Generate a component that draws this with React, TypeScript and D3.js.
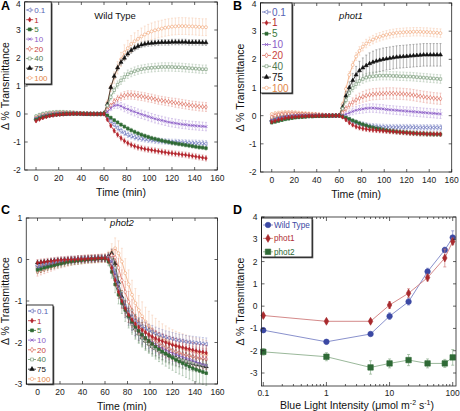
import React, { useEffect, useRef } from "react";
import * as d3 from "d3";

const TIME = [0,3,6,9,12,15,18,21,24,27,30,33,36,39,42,45,48,51,54,57,60,63,66,69,72,75,78,81,84,87,90,93,96,99,102,105,108,111,114,117,120,123,126,129,132,135,138,141,144,147,150];
const DOSE_LABELS = ["0.1", "1", "5", "10", "20", "40", "75", "100"];
const TIME_TICKS = [0, 20, 40, 60, 80, 100, 120, 140, 160];
const AB_Y_TICKS = [-2, -1, 0, 1, 2, 3, 4];
const C_Y_TICKS = [-3, -2, -1, 0, 1];
const D_Y_TICKS = [-3, -2, -1, 0, 1, 2, 3, 4];
const D_X_TICKS = [0.1, 1, 10, 100];
const D_X_LABELS = ["0.1", "1", "10", "100"];
const INTENSITY = [0.1, 1, 5, 10, 20, 40, 75, 100];
const D_NAMES = ["Wild Type", "phot1", "phot2"];

// ---------- Panel A: Wild Type ----------
const WT_01 = [-0.18,-0.13,-0.09,-0.06,-0.04,-0.02,-0.01,0,0.01,0.01,0.02,0.02,0.02,0.01,0.01,0.01,0,0,0,0,0,
  -0.1,-0.25,-0.38,-0.5,-0.6,-0.68,-0.74,-0.79,-0.83,-0.86,-0.88,-0.9,-0.92,-0.93,-0.95,-0.96,-0.97,-0.98,-0.99,-1.0,-1.0,-1.01,-1.02,-1.02,-1.03,-1.04,-1.04,-1.05,-1.05,-1.06];
const WT_1 = [-0.25,-0.19,-0.14,-0.1,-0.07,-0.05,-0.03,-0.02,-0.01,0,0,0.01,0.01,0.01,0,0,0,0,0,0,0,
  -0.2,-0.42,-0.6,-0.74,-0.86,-0.96,-1.04,-1.1,-1.15,-1.19,-1.22,-1.25,-1.27,-1.29,-1.31,-1.33,-1.35,-1.37,-1.39,-1.4,-1.42,-1.43,-1.45,-1.46,-1.48,-1.5,-1.52,-1.54,-1.56,-1.58];
const WT_5 = [-0.2,-0.15,-0.11,-0.08,-0.05,-0.03,-0.02,-0.01,0,0.01,0.01,0.01,0.01,0.01,0.01,0,0,0,0,0,0.01,
  -0.05,-0.13,-0.22,-0.3,-0.38,-0.45,-0.52,-0.58,-0.64,-0.69,-0.74,-0.78,-0.82,-0.86,-0.89,-0.92,-0.95,-0.98,-1.0,-1.03,-1.05,-1.07,-1.09,-1.11,-1.13,-1.15,-1.17,-1.19,-1.2,-1.22];
const WT_10 = [-0.17,-0.12,-0.08,-0.05,-0.03,-0.01,0,0.01,0.02,0.02,0.02,0.02,0.02,0.02,0.01,0.01,0,0,0,0,0,
  0.08,0.2,0.3,0.32,0.28,0.22,0.17,0.12,0.08,0.03,-0.01,-0.05,-0.09,-0.13,-0.17,-0.2,-0.23,-0.26,-0.29,-0.31,-0.33,-0.35,-0.37,-0.38,-0.4,-0.41,-0.42,-0.43,-0.44,-0.45];
const WT_20 = [-0.15,-0.1,-0.06,-0.03,-0.01,0.01,0.02,0.03,0.03,0.03,0.03,0.03,0.02,0.02,0.01,0.01,0,0,0,0,0,
  0.15,0.3,0.45,0.55,0.62,0.66,0.68,0.68,0.67,0.65,0.63,0.61,0.58,0.56,0.53,0.5,0.48,0.46,0.44,0.42,0.4,0.38,0.36,0.34,0.32,0.3,0.29,0.27,0.26,0.25];
const WT_40 = [-0.08,-0.03,0.01,0.03,0.05,0.06,0.07,0.07,0.07,0.06,0.06,0.05,0.04,0.03,0.02,0.02,0.01,0.01,0,0,0.02,
  0.3,0.6,0.85,1.05,1.2,1.32,1.42,1.48,1.53,1.57,1.6,1.62,1.64,1.65,1.66,1.67,1.68,1.68,1.68,1.68,1.67,1.67,1.66,1.65,1.64,1.63,1.62,1.61,1.6,1.6];
const WT_75 = [-0.17,-0.13,-0.1,-0.07,-0.05,-0.03,-0.02,-0.01,0,0,0.01,0.01,0.01,0.01,0,0,0,0,0,0,0.03,
  0.35,0.95,1.35,1.65,1.85,2.0,2.15,2.27,2.36,2.42,2.47,2.5,2.52,2.53,2.54,2.55,2.56,2.56,2.56,2.57,2.57,2.57,2.57,2.57,2.56,2.56,2.56,2.56,2.55,2.55];
const WT_100 = [-0.12,-0.07,-0.03,0,0.02,0.03,0.04,0.04,0.04,0.04,0.04,0.03,0.03,0.02,0.02,0.01,0.01,0,0,0,0.02,
  0.4,0.95,1.3,1.65,1.95,2.2,2.35,2.5,2.6,2.68,2.77,2.84,2.9,2.95,2.99,3.02,3.05,3.08,3.1,3.12,3.13,3.14,3.14,3.14,3.13,3.13,3.12,3.11,3.1,3.1];

const WT_01_ERR = [0.04,0.04,0.04,0.04,0.04,0.04,0.04,0.04,0.04,0.04,0.04,0.04,0.04,0.04,0.04,0.04,0.04,0.04,0.04,0.04,0.04,
  0.05,0.06,0.07,0.08,0.09,0.09,0.1,0.1,0.1,0.1,0.1,0.1,0.1,0.1,0.1,0.1,0.1,0.1,0.1,0.1,0.1,0.1,0.1,0.1,0.1,0.11,0.11,0.11,0.11,0.11];
const WT_1_ERR = [0.04,0.04,0.04,0.04,0.04,0.04,0.04,0.04,0.04,0.04,0.04,0.04,0.04,0.04,0.04,0.04,0.04,0.04,0.04,0.04,0.04,
  0.05,0.07,0.08,0.09,0.1,0.1,0.1,0.1,0.1,0.1,0.1,0.1,0.1,0.1,0.1,0.1,0.1,0.1,0.1,0.1,0.1,0.1,0.1,0.1,0.1,0.1,0.1,0.1,0.1,0.1];
const WT_5_ERR = [0.03,0.03,0.03,0.03,0.03,0.03,0.03,0.03,0.03,0.03,0.03,0.03,0.03,0.03,0.03,0.03,0.03,0.03,0.03,0.03,0.03,
  0.04,0.05,0.05,0.06,0.06,0.06,0.07,0.07,0.07,0.07,0.07,0.07,0.07,0.07,0.07,0.07,0.07,0.07,0.07,0.07,0.07,0.07,0.07,0.07,0.07,0.07,0.07,0.07,0.07,0.07];
const WT_10_ERR = [0.04,0.04,0.04,0.04,0.04,0.04,0.04,0.04,0.04,0.04,0.04,0.04,0.04,0.04,0.04,0.04,0.04,0.04,0.04,0.04,0.04,
  0.06,0.08,0.1,0.12,0.13,0.14,0.14,0.15,0.15,0.15,0.15,0.15,0.15,0.15,0.15,0.15,0.15,0.15,0.15,0.15,0.15,0.15,0.15,0.15,0.15,0.15,0.15,0.15,0.15,0.15];
const WT_20_ERR = [0.05,0.05,0.05,0.05,0.05,0.05,0.05,0.05,0.05,0.05,0.05,0.05,0.05,0.05,0.05,0.05,0.05,0.05,0.05,0.05,0.05,
  0.06,0.08,0.1,0.12,0.13,0.14,0.15,0.15,0.15,0.15,0.15,0.15,0.15,0.15,0.15,0.15,0.15,0.15,0.15,0.15,0.16,0.16,0.16,0.16,0.16,0.16,0.16,0.16,0.16,0.16];
const WT_40_ERR = [0.06,0.06,0.06,0.06,0.06,0.06,0.06,0.06,0.06,0.06,0.06,0.06,0.06,0.06,0.06,0.06,0.06,0.06,0.06,0.06,0.06,
  0.08,0.1,0.12,0.13,0.14,0.15,0.15,0.15,0.15,0.15,0.15,0.15,0.15,0.15,0.15,0.15,0.15,0.15,0.15,0.15,0.15,0.15,0.15,0.15,0.15,0.15,0.15,0.15,0.15,0.15];
const WT_75_ERR = [0.04,0.04,0.04,0.04,0.04,0.04,0.04,0.04,0.04,0.04,0.04,0.04,0.04,0.04,0.04,0.04,0.04,0.04,0.04,0.04,0.04,
  0.06,0.08,0.09,0.1,0.1,0.1,0.1,0.1,0.1,0.1,0.1,0.1,0.1,0.1,0.1,0.1,0.1,0.1,0.1,0.1,0.1,0.1,0.1,0.1,0.1,0.1,0.1,0.1,0.1,0.1];
const WT_100_ERR = [0.06,0.06,0.06,0.06,0.06,0.06,0.06,0.06,0.06,0.06,0.06,0.06,0.06,0.06,0.06,0.06,0.06,0.06,0.06,0.06,0.06,
  0.1,0.15,0.2,0.22,0.25,0.27,0.28,0.3,0.3,0.3,0.3,0.3,0.3,0.3,0.3,0.3,0.3,0.3,0.3,0.3,0.3,0.3,0.3,0.3,0.3,0.3,0.3,0.3,0.3,0.3];

// ---------- Panel B: phot1 ----------
const P1_01 = [-0.2,-0.16,-0.12,-0.09,-0.07,-0.05,-0.04,-0.03,-0.02,-0.02,-0.01,-0.01,-0.01,0,0,0,0,0,0,0,0,
  -0.03,-0.08,-0.14,-0.2,-0.25,-0.29,-0.32,-0.35,-0.37,-0.38,-0.39,-0.4,-0.4,-0.41,-0.41,-0.41,-0.41,-0.41,-0.41,-0.41,-0.41,-0.41,-0.42,-0.42,-0.42,-0.42,-0.42,-0.42,-0.42,-0.42];
const P1_1 = [-0.22,-0.18,-0.14,-0.11,-0.08,-0.06,-0.05,-0.04,-0.03,-0.02,-0.02,-0.01,-0.01,-0.01,0,0,0,0,0,0,0,
  -0.05,-0.15,-0.25,-0.33,-0.39,-0.43,-0.46,-0.48,-0.5,-0.51,-0.52,-0.53,-0.54,-0.55,-0.56,-0.57,-0.58,-0.59,-0.6,-0.61,-0.62,-0.63,-0.63,-0.64,-0.64,-0.65,-0.65,-0.65,-0.65,-0.66];
const P1_5 = [-0.25,-0.22,-0.19,-0.16,-0.13,-0.11,-0.09,-0.07,-0.06,-0.05,-0.04,-0.03,-0.03,-0.02,-0.02,-0.01,-0.01,-0.01,0,0,0,
  -0.03,-0.07,-0.12,-0.17,-0.22,-0.27,-0.31,-0.35,-0.39,-0.42,-0.45,-0.47,-0.5,-0.52,-0.54,-0.55,-0.57,-0.58,-0.59,-0.6,-0.61,-0.62,-0.63,-0.64,-0.64,-0.65,-0.65,-0.66,-0.66,-0.66];
const P1_10 = [-0.18,-0.14,-0.1,-0.07,-0.05,-0.03,-0.02,-0.01,0,0,0,0,0,0,0,0,0,0,0,0,0,
  0,0.05,0.1,0.15,0.19,0.22,0.24,0.26,0.27,0.27,0.26,0.25,0.24,0.22,0.21,0.2,0.19,0.18,0.17,0.16,0.15,0.14,0.13,0.12,0.11,0.1,0.09,0.08,0.07,0.06];
const P1_20 = [-0.05,0,0.03,0.05,0.06,0.06,0.06,0.06,0.05,0.05,0.04,0.04,0.03,0.03,0.02,0.02,0.01,0.01,0,0,0,
  0.1,0.25,0.38,0.48,0.56,0.62,0.67,0.71,0.74,0.76,0.77,0.78,0.78,0.79,0.79,0.79,0.78,0.78,0.77,0.76,0.75,0.73,0.71,0.69,0.67,0.65,0.64,0.62,0.61,0.6];
const P1_40 = [-0.1,-0.06,-0.03,-0.01,0,0.01,0.01,0.01,0.01,0.01,0.01,0,0,0,0,0,0,0,0,0,0,
  0.25,0.55,0.8,0.98,1.12,1.23,1.3,1.35,1.38,1.4,1.41,1.42,1.42,1.42,1.42,1.41,1.41,1.4,1.4,1.39,1.39,1.38,1.37,1.36,1.35,1.34,1.33,1.32,1.31,1.3];
const P1_75 = [-0.15,-0.1,-0.06,-0.03,-0.01,0,0.01,0.02,0.02,0.02,0.01,0.01,0,0,0,0,0,0,0,0,0.01,
  0.3,0.7,1.0,1.25,1.45,1.6,1.7,1.78,1.85,1.9,1.94,1.97,2.0,2.02,2.04,2.06,2.08,2.09,2.1,2.11,2.12,2.13,2.14,2.15,2.16,2.16,2.16,2.16,2.16,2.16];
const P1_100 = [0.05,0.08,0.1,0.11,0.12,0.12,0.12,0.11,0.1,0.09,0.08,0.07,0.06,0.05,0.04,0.03,0.02,0.02,0.01,0.01,0.01,
  0.4,0.95,1.45,1.8,2.1,2.3,2.45,2.56,2.64,2.7,2.76,2.8,2.84,2.87,2.9,2.92,2.94,2.95,2.96,2.97,2.97,2.98,2.98,2.98,2.97,2.97,2.96,2.95,2.94,2.93];

const P1_01_ERR = [0.06,0.06,0.06,0.06,0.06,0.06,0.06,0.06,0.06,0.06,0.06,0.06,0.06,0.06,0.06,0.06,0.06,0.06,0.06,0.06,0.06,
  0.06,0.07,0.08,0.08,0.09,0.09,0.1,0.1,0.1,0.1,0.1,0.1,0.1,0.1,0.1,0.1,0.1,0.1,0.1,0.1,0.1,0.1,0.1,0.1,0.1,0.1,0.1,0.1,0.1,0.1];
const P1_1_ERR = [0.05,0.05,0.05,0.05,0.05,0.05,0.05,0.05,0.05,0.05,0.05,0.05,0.05,0.05,0.05,0.05,0.05,0.05,0.05,0.05,0.05,
  0.05,0.06,0.07,0.07,0.08,0.08,0.08,0.08,0.08,0.08,0.08,0.08,0.08,0.08,0.08,0.08,0.08,0.08,0.08,0.08,0.08,0.08,0.08,0.08,0.08,0.08,0.08,0.08,0.08,0.08];
const P1_5_ERR = [0.04,0.04,0.04,0.04,0.04,0.04,0.04,0.04,0.04,0.04,0.04,0.04,0.04,0.04,0.04,0.04,0.04,0.04,0.04,0.04,0.04,
  0.05,0.05,0.06,0.06,0.07,0.07,0.07,0.08,0.08,0.08,0.08,0.08,0.08,0.08,0.08,0.08,0.08,0.08,0.08,0.08,0.08,0.08,0.08,0.08,0.08,0.08,0.08,0.08,0.08,0.08];
const P1_10_ERR = [0.05,0.05,0.05,0.05,0.05,0.05,0.05,0.05,0.05,0.05,0.05,0.05,0.05,0.05,0.05,0.05,0.05,0.05,0.05,0.05,0.05,
  0.06,0.08,0.1,0.12,0.13,0.14,0.15,0.15,0.15,0.15,0.15,0.15,0.15,0.15,0.15,0.15,0.15,0.15,0.15,0.15,0.16,0.16,0.16,0.16,0.16,0.16,0.16,0.16,0.16,0.16];
const P1_20_ERR = [0.06,0.06,0.06,0.06,0.06,0.06,0.06,0.06,0.06,0.06,0.06,0.06,0.06,0.06,0.06,0.06,0.06,0.06,0.06,0.06,0.06,
  0.08,0.1,0.12,0.15,0.17,0.18,0.19,0.2,0.2,0.2,0.2,0.2,0.2,0.2,0.2,0.2,0.2,0.2,0.2,0.2,0.2,0.2,0.2,0.2,0.2,0.2,0.2,0.2,0.2,0.2];
const P1_40_ERR = [0.05,0.05,0.05,0.05,0.05,0.05,0.05,0.05,0.05,0.05,0.05,0.05,0.05,0.05,0.05,0.05,0.05,0.05,0.05,0.05,0.05,
  0.08,0.1,0.12,0.13,0.14,0.15,0.15,0.15,0.15,0.15,0.15,0.15,0.15,0.15,0.15,0.15,0.15,0.15,0.15,0.15,0.15,0.15,0.15,0.15,0.15,0.15,0.15,0.15,0.15,0.15];
const P1_75_ERR = [0.05,0.05,0.05,0.05,0.05,0.05,0.05,0.05,0.05,0.05,0.05,0.05,0.05,0.05,0.05,0.05,0.05,0.05,0.05,0.05,0.05,
  0.1,0.15,0.2,0.25,0.3,0.33,0.35,0.37,0.38,0.39,0.4,0.4,0.4,0.4,0.4,0.4,0.4,0.4,0.4,0.4,0.4,0.4,0.4,0.4,0.4,0.4,0.4,0.4,0.4,0.4];
const P1_100_ERR = [0.06,0.06,0.06,0.06,0.06,0.06,0.06,0.06,0.06,0.06,0.06,0.06,0.06,0.06,0.06,0.06,0.06,0.06,0.06,0.06,0.06,
  0.08,0.1,0.12,0.13,0.14,0.15,0.15,0.15,0.15,0.15,0.15,0.15,0.15,0.15,0.15,0.15,0.15,0.15,0.15,0.15,0.15,0.15,0.15,0.15,0.15,0.15,0.15,0.15,0.15,0.15];

// ---------- Panel C: phot2 ----------
const P2_01 = [-0.15,-0.13,-0.11,-0.09,-0.07,-0.05,-0.04,-0.03,-0.02,-0.01,0,0,0.01,0.01,0.02,0.02,0.02,0.03,0.03,0.03,0.03,
  0.02,-0.1,-0.4,-0.7,-0.95,-1.13,-1.28,-1.39,-1.48,-1.55,-1.61,-1.66,-1.7,-1.74,-1.78,-1.81,-1.84,-1.87,-1.89,-1.91,-1.93,-1.95,-1.96,-1.98,-1.99,-2.0,-2.01,-2.02,-2.03,-2.04];
const P2_1 = [-0.08,-0.07,-0.06,-0.05,-0.04,-0.03,-0.02,-0.01,-0.01,0,0,0,0.01,0.01,0.01,0.02,0.02,0.02,0.03,0.03,0.03,
  0,-0.2,-0.5,-0.78,-1.0,-1.18,-1.33,-1.45,-1.55,-1.63,-1.7,-1.76,-1.81,-1.86,-1.9,-1.94,-1.97,-2.0,-2.03,-2.06,-2.08,-2.1,-2.12,-2.14,-2.16,-2.18,-2.2,-2.22,-2.23,-2.25];
const P2_5 = [-0.25,-0.23,-0.2,-0.18,-0.16,-0.14,-0.12,-0.1,-0.08,-0.06,-0.05,-0.04,-0.03,-0.02,-0.01,0,0.01,0.01,0.02,0.02,0.02,
  -0.05,-0.3,-0.6,-0.85,-1.05,-1.22,-1.37,-1.5,-1.62,-1.72,-1.81,-1.89,-1.96,-2.03,-2.1,-2.16,-2.22,-2.27,-2.32,-2.37,-2.42,-2.46,-2.5,-2.54,-2.58,-2.62,-2.65,-2.68,-2.71,-2.74];
const P2_10 = [-0.2,-0.18,-0.16,-0.14,-0.12,-0.1,-0.08,-0.06,-0.05,-0.04,-0.03,-0.02,-0.01,0,0.01,0.01,0.02,0.02,0.03,0.03,0.03,
  0.03,-0.05,-0.35,-0.7,-0.98,-1.2,-1.38,-1.52,-1.64,-1.74,-1.82,-1.89,-1.95,-2.0,-2.05,-2.1,-2.14,-2.18,-2.22,-2.26,-2.29,-2.32,-2.35,-2.38,-2.41,-2.44,-2.47,-2.5,-2.53,-2.55];
const P2_20 = [-0.3,-0.27,-0.24,-0.21,-0.18,-0.15,-0.12,-0.1,-0.08,-0.06,-0.04,-0.03,-0.02,-0.01,0,0.01,0.01,0.02,0.02,0.03,0.03,
  0.05,0.1,0.05,-0.2,-0.5,-0.78,-1.02,-1.22,-1.39,-1.53,-1.65,-1.75,-1.83,-1.9,-1.96,-2.02,-2.07,-2.11,-2.15,-2.19,-2.22,-2.25,-2.28,-2.3,-2.32,-2.34,-2.36,-2.38,-2.39,-2.4];
const P2_40 = [-0.2,-0.17,-0.14,-0.12,-0.1,-0.08,-0.06,-0.05,-0.04,-0.03,-0.02,-0.01,0,0,0.01,0.01,0.02,0.02,0.03,0.03,0.04,
  0.05,0.05,-0.2,-0.6,-0.95,-1.2,-1.4,-1.56,-1.69,-1.8,-1.89,-1.97,-2.04,-2.1,-2.15,-2.2,-2.24,-2.28,-2.32,-2.35,-2.38,-2.41,-2.43,-2.45,-2.47,-2.49,-2.51,-2.52,-2.54,-2.55];
const P2_75 = [-0.08,-0.07,-0.06,-0.05,-0.04,-0.03,-0.02,-0.02,-0.01,-0.01,0,0,0,0.01,0.01,0.01,0.02,0.02,0.03,0.03,0.04,
  0.08,0.15,-0.1,-0.55,-0.9,-1.15,-1.35,-1.52,-1.66,-1.78,-1.88,-1.96,-2.03,-2.09,-2.14,-2.19,-2.23,-2.27,-2.31,-2.34,-2.37,-2.4,-2.43,-2.45,-2.48,-2.5,-2.52,-2.54,-2.56,-2.58];
const P2_100 = [-0.2,-0.18,-0.16,-0.14,-0.12,-0.1,-0.08,-0.06,-0.05,-0.04,-0.03,-0.02,-0.01,0,0.01,0.01,0.02,0.02,0.03,0.03,0.04,
  0.05,0.18,0.27,0.15,-0.05,-0.33,-0.6,-0.85,-1.05,-1.22,-1.37,-1.5,-1.6,-1.69,-1.77,-1.84,-1.9,-1.95,-2.0,-2.04,-2.08,-2.11,-2.14,-2.17,-2.2,-2.22,-2.24,-2.26,-2.28,-2.3];

const P2_01_ERR = [0.08,0.08,0.08,0.08,0.08,0.08,0.08,0.08,0.08,0.08,0.08,0.08,0.08,0.08,0.08,0.08,0.08,0.08,0.08,0.08,0.08,
  0.08,0.1,0.12,0.14,0.15,0.15,0.15,0.15,0.15,0.15,0.15,0.15,0.15,0.15,0.15,0.15,0.15,0.15,0.15,0.15,0.15,0.15,0.15,0.15,0.15,0.15,0.15,0.15,0.15,0.15];
const P2_1_ERR = [0.08,0.08,0.08,0.08,0.08,0.08,0.08,0.08,0.08,0.08,0.08,0.08,0.08,0.08,0.08,0.08,0.08,0.08,0.08,0.08,0.08,
  0.1,0.12,0.14,0.16,0.18,0.18,0.18,0.18,0.18,0.18,0.18,0.18,0.18,0.18,0.18,0.18,0.18,0.18,0.18,0.18,0.18,0.18,0.18,0.18,0.18,0.18,0.18,0.18,0.18,0.18];
const P2_5_ERR = [0.08,0.08,0.08,0.08,0.08,0.08,0.08,0.08,0.08,0.08,0.08,0.08,0.08,0.08,0.08,0.08,0.08,0.08,0.08,0.08,0.08,
  0.1,0.15,0.2,0.22,0.25,0.27,0.28,0.3,0.3,0.3,0.3,0.3,0.3,0.3,0.3,0.3,0.3,0.3,0.3,0.3,0.3,0.3,0.3,0.3,0.3,0.3,0.3,0.3,0.3,0.3];
const P2_10_ERR = [0.07,0.07,0.07,0.07,0.07,0.07,0.07,0.07,0.07,0.07,0.07,0.07,0.07,0.07,0.07,0.07,0.07,0.07,0.07,0.07,0.07,
  0.1,0.12,0.15,0.17,0.18,0.2,0.2,0.2,0.2,0.2,0.2,0.2,0.2,0.2,0.2,0.2,0.2,0.2,0.2,0.2,0.2,0.2,0.2,0.2,0.2,0.2,0.2,0.2,0.2,0.2];
const P2_20_ERR = [0.1,0.1,0.1,0.1,0.1,0.1,0.1,0.1,0.1,0.1,0.1,0.1,0.1,0.1,0.1,0.1,0.1,0.1,0.1,0.1,0.1,
  0.12,0.15,0.2,0.22,0.25,0.25,0.25,0.25,0.25,0.25,0.25,0.25,0.25,0.25,0.25,0.25,0.25,0.25,0.25,0.25,0.25,0.25,0.25,0.25,0.25,0.25,0.25,0.25,0.25,0.25];
const P2_40_ERR = [0.08,0.08,0.08,0.08,0.08,0.08,0.08,0.08,0.08,0.08,0.08,0.08,0.08,0.08,0.08,0.08,0.08,0.08,0.08,0.08,0.08,
  0.1,0.12,0.15,0.18,0.2,0.2,0.2,0.2,0.2,0.2,0.2,0.2,0.2,0.2,0.2,0.2,0.2,0.2,0.2,0.2,0.2,0.2,0.2,0.2,0.2,0.2,0.2,0.2,0.2,0.2];
const P2_75_ERR = [0.06,0.06,0.06,0.06,0.06,0.06,0.06,0.06,0.06,0.06,0.06,0.06,0.06,0.06,0.06,0.06,0.06,0.06,0.06,0.06,0.06,
  0.08,0.1,0.12,0.14,0.15,0.16,0.17,0.18,0.18,0.18,0.18,0.18,0.18,0.18,0.18,0.18,0.18,0.18,0.18,0.18,0.18,0.18,0.18,0.18,0.18,0.18,0.18,0.18,0.18,0.18];
const P2_100_ERR = [0.1,0.1,0.1,0.1,0.1,0.1,0.1,0.1,0.1,0.1,0.1,0.1,0.1,0.1,0.1,0.1,0.1,0.1,0.1,0.1,0.1,
  0.15,0.2,0.25,0.3,0.32,0.35,0.35,0.35,0.35,0.35,0.35,0.35,0.35,0.35,0.35,0.35,0.35,0.35,0.35,0.35,0.35,0.35,0.35,0.35,0.35,0.35,0.35,0.35,0.35,0.35];

// ---------- Panel D: response at 150 min vs intensity ----------
const D_WT = [-1.08, -1.6, -1.25, -0.45, 0.2, 1.55, 2.52, 3.08];
const D_WT_ERR = [0.1, 0.1, 0.08, 0.15, 0.15, 0.15, 0.12, 0.3];
const D_P1 = [-0.42, -0.68, -0.68, 0.05, 0.58, 1.28, 2.16, 2.9];
const D_P1_ERR = [0.1, 0.08, 0.08, 0.15, 0.2, 0.15, 0.4, 0.15];
const D_P2 = [-2.05, -2.27, -2.75, -2.57, -2.42, -2.57, -2.57, -2.3];
const D_P2_ERR = [0.15, 0.18, 0.3, 0.2, 0.25, 0.2, 0.18, 0.35];

// ---------- styles ----------
const FONT = "'Liberation Sans', Arial, Helvetica, sans-serif";
const STYLES = [
  { color: "#5662b3", text: "#5662b3", shape: "triLeft", filled: false, size: 6 },
  { color: "#b3242b", text: "#b3242b", shape: "diamond", filled: true, size: 5 },
  { color: "#2e6a33", text: "#3c7a40", shape: "square", filled: true, size: 7 },
  { color: "#8a5cc6", text: "#8a5cc6", shape: "times", filled: false, size: 6 },
  { color: "#d8604f", text: "#c8453c", shape: "diamond", filled: false, size: 6 },
  { color: "#6e936e", text: "#4f7a4f", shape: "square", filled: false, size: 6.5 },
  { color: "#111111", text: "#111111", shape: "triangle", filled: true, size: 7 },
  { color: "#f0a373", text: "#df8748", shape: "circle", filled: false, size: 7 },
];
const D_STYLES = [
  { color: "#3b48a3", line: "#7c84c6", text: "#3b48a3", shape: "circle", size: 24 },
  { color: "#a82a2e", line: "#cf7d7d", text: "#b03035", shape: "diamond", size: 18 },
  { color: "#2f6a36", line: "#8fb08f", text: "#2f6a36", shape: "square", size: 30 },
];
const SYMBOLS: Record<string, any> = {
  triLeft: d3.symbolTriangle,
  triangle: d3.symbolTriangle,
  diamond: d3.symbolDiamond,
  square: d3.symbolSquare,
  times: d3.symbolTimes,
  circle: d3.symbolCircle,
};

function drawMarker(g: any, shape: string, color: string, filled: boolean, size: number, cx: number, cy: number) {
  const strokeOnly = shape === "times";
  g.append("path")
    .attr("d", d3.symbol().type(SYMBOLS[shape]).size(size)() as string)
    .attr("transform", `translate(${cx},${cy})${shape === "triLeft" ? " rotate(-90)" : ""}`)
    .attr("fill", strokeOnly ? "none" : filled ? color : "#fff")
    .attr("stroke", color)
    .attr("stroke-width", strokeOnly ? 0.8 : 0.6);
}

function drawLegendBox(g: any, x: number, y: number, w: number, h: number) {
  g.append("rect").attr("x", x + 1.3).attr("y", y + 1.3).attr("width", w).attr("height", h).attr("fill", "#555");
  g.append("rect").attr("x", x).attr("y", y).attr("width", w).attr("height", h)
    .attr("fill", "#fff").attr("stroke", "#000").attr("stroke-width", 0.8);
}

function drawYLabel(g: any, x: number, y: number) {
  g.append("text").attr("transform", `translate(${x},${y}) rotate(-90)`)
    .attr("text-anchor", "middle").attr("font-size", 10.5).attr("fill", "#111")
    .text("Δ % Transmittance");
}

function drawTimePanel(root: any, p: any) {
  const g = root.append("g");
  const x = d3.scaleLinear().domain([-10, 160]).range([p.left, p.right]);
  const y = d3.scaleLinear().domain(p.yDomain).range([p.bottom, p.top]);
  const order = [7, 6, 5, 4, 3, 0, 2, 1];
  const line = d3.line<number>().x((_, k) => x(TIME[k])).y((v) => y(v));
  order.forEach((i) => {
    const st = STYLES[i];
    const vals: number[] = p.values[i];
    const errs: number[] = p.errs[i];
    const eb = g.append("g").attr("stroke", st.color).attr("stroke-width", 0.55).attr("opacity", 0.55);
    vals.forEach((v, k) => {
      const cx = x(TIME[k]);
      const y1 = y(v - errs[k]);
      const y2 = y(v + errs[k]);
      eb.append("line").attr("x1", cx).attr("x2", cx).attr("y1", y1).attr("y2", y2);
      eb.append("line").attr("x1", cx - 1).attr("x2", cx + 1).attr("y1", y1).attr("y2", y1);
      eb.append("line").attr("x1", cx - 1).attr("x2", cx + 1).attr("y1", y2).attr("y2", y2);
    });
    g.append("path").attr("d", line(vals) as string).attr("fill", "none")
      .attr("stroke", st.color).attr("stroke-width", 0.75);
    const mg = g.append("g");
    vals.forEach((v, k) => drawMarker(mg, st.shape, st.color, st.filled, st.size, x(TIME[k]), y(v)));
  });

  // frame and ticks
  g.append("rect").attr("x", p.left).attr("y", p.top).attr("width", p.right - p.left)
    .attr("height", p.bottom - p.top).attr("fill", "none").attr("stroke", "#222").attr("stroke-width", 0.8);
  const tk = g.append("g").attr("stroke", "#222").attr("stroke-width", 0.7);
  TIME_TICKS.forEach((t) => {
    const cx = x(t);
    tk.append("line").attr("x1", cx).attr("x2", cx).attr("y1", p.bottom).attr("y2", p.bottom - 3);
    tk.append("line").attr("x1", cx).attr("x2", cx).attr("y1", p.top).attr("y2", p.top + 3);
    g.append("text").attr("x", cx).attr("y", p.bottom + 11).attr("text-anchor", "middle")
      .attr("font-size", 8.5).attr("fill", "#222").text(String(t));
  });
  p.yTicks.forEach((v: number) => {
    const cy = y(v);
    tk.append("line").attr("x1", p.left).attr("x2", p.left + 3).attr("y1", cy).attr("y2", cy);
    tk.append("line").attr("x1", p.right).attr("x2", p.right - 3).attr("y1", cy).attr("y2", cy);
    g.append("text").attr("x", p.left - 4).attr("y", Math.max(cy + 3, 7)).attr("text-anchor", "end")
      .attr("font-size", 8.5).attr("fill", "#222").text(String(v));
  });

  // titles
  g.append("text").attr("x", p.titleX).attr("y", p.titleY).attr("text-anchor", "middle")
    .attr("font-size", 9.5).attr("font-style", p.italic ? "italic" : "normal").attr("fill", "#111").text(p.title);
  g.append("text").attr("x", (p.left + p.right) / 2).attr("y", p.bottom + 26).attr("text-anchor", "middle")
    .attr("font-size", 10.5).attr("fill", "#111").text("Time (min)");
  drawYLabel(g, p.yLabelX, (p.top + p.bottom) / 2);
  g.append("text").attr("x", p.letterX).attr("y", p.letterY).attr("font-size", 12.5)
    .attr("font-weight", "bold").attr("fill", "#000").text(p.letter);

  // legend
  const L = p.legend;
  const lg = g.append("g");
  drawLegendBox(lg, L.x, L.y, L.w, L.h);
  DOSE_LABELS.forEach((lab, i) => {
    const st = STYLES[i];
    const cy = L.firstY + i * L.step;
    const x0 = L.x + 1.5;
    lg.append("line").attr("x1", x0).attr("x2", x0 + L.lineLen).attr("y1", cy).attr("y2", cy)
      .attr("stroke", st.color).attr("stroke-width", 0.8);
    drawMarker(lg, st.shape, st.color, st.filled, st.size * 1.3, x0 + L.lineLen / 2, cy);
    lg.append("text").attr("x", x0 + L.lineLen + 1).attr("y", cy + L.fontSize * 0.36)
      .attr("font-size", L.fontSize).attr("fill", st.text).text(lab);
  });
}

function drawDosePanel(root: any) {
  const g = root.append("g");
  const left = 261.5, right = 456, top = 217, bottom = 386;
  const x = d3.scaleLog().domain([0.1, 100]).range([263.3, 452.7]);
  const y = d3.scaleLinear().domain([-3, 4]).range([373, 217]);
  const series = [
    { v: D_WT, e: D_WT_ERR },
    { v: D_P1, e: D_P1_ERR },
    { v: D_P2, e: D_P2_ERR },
  ];
  series.forEach((s, i) => {
    const st = D_STYLES[i];
    const eb = g.append("g").attr("stroke", st.line).attr("stroke-width", 0.7);
    s.v.forEach((v, k) => {
      const cx = x(INTENSITY[k]);
      const y1 = y(v - s.e[k]);
      const y2 = y(v + s.e[k]);
      eb.append("line").attr("x1", cx).attr("x2", cx).attr("y1", y1).attr("y2", y2);
      eb.append("line").attr("x1", cx - 1.5).attr("x2", cx + 1.5).attr("y1", y1).attr("y2", y1);
      eb.append("line").attr("x1", cx - 1.5).attr("x2", cx + 1.5).attr("y1", y2).attr("y2", y2);
    });
    const line = d3.line<number>().x((_, k) => x(INTENSITY[k])).y((v) => y(v));
    g.append("path").attr("d", line(s.v) as string).attr("fill", "none")
      .attr("stroke", st.line).attr("stroke-width", 0.9);
    s.v.forEach((v, k) => drawMarker(g, st.shape, st.color, true, st.size, x(INTENSITY[k]), y(v)));
  });

  g.append("rect").attr("x", left).attr("y", top).attr("width", right - left).attr("height", bottom - top)
    .attr("fill", "none").attr("stroke", "#222").attr("stroke-width", 0.8);
  const tk = g.append("g").attr("stroke", "#222").attr("stroke-width", 0.7);
  x.ticks().forEach((t) => {
    const cx = x(t);
    const major = D_X_TICKS.some((m) => Math.abs(m - t) < 1e-9);
    const len = major ? 4 : 2;
    tk.append("line").attr("x1", cx).attr("x2", cx).attr("y1", bottom).attr("y2", bottom - len);
    tk.append("line").attr("x1", cx).attr("x2", cx).attr("y1", top).attr("y2", top + len);
  });
  D_X_TICKS.forEach((t, i) => {
    g.append("text").attr("x", x(t)).attr("y", bottom + 10).attr("text-anchor", "middle")
      .attr("font-size", 8.5).attr("fill", "#222").text(D_X_LABELS[i]);
  });
  D_Y_TICKS.forEach((v) => {
    const cy = y(v);
    tk.append("line").attr("x1", left).attr("x2", left + 3).attr("y1", cy).attr("y2", cy);
    tk.append("line").attr("x1", right).attr("x2", right - 3).attr("y1", cy).attr("y2", cy);
    g.append("text").attr("x", left - 4).attr("y", cy + 3).attr("text-anchor", "end")
      .attr("font-size", 8.5).attr("fill", "#222").text(String(v));
  });

  const xt = g.append("text").attr("x", 357).attr("y", 409).attr("text-anchor", "middle")
    .attr("font-size", 10.5).attr("fill", "#111");
  xt.append("tspan").text("Blue Light Intensity (μmol m");
  xt.append("tspan").attr("font-size", 7).attr("dy", -4).text("-2");
  xt.append("tspan").attr("dy", 4).text(" s");
  xt.append("tspan").attr("font-size", 7).attr("dy", -4).text("-1");
  xt.append("tspan").attr("dy", 4).text(")");
  drawYLabel(g, 244, (top + bottom) / 2);
  g.append("text").attr("x", 233).attr("y", 214).attr("font-size", 12.5)
    .attr("font-weight", "bold").attr("fill", "#000").text("D");

  const lg = g.append("g");
  drawLegendBox(lg, 261.5, 218, 50.5, 39);
  D_NAMES.forEach((name, i) => {
    const st = D_STYLES[i];
    const cy = 225 + i * 13.4;
    lg.append("line").attr("x1", 263).attr("x2", 273).attr("y1", cy).attr("y2", cy)
      .attr("stroke", st.line).attr("stroke-width", 0.9);
    drawMarker(lg, st.shape, st.color, true, st.size, 268, cy);
    lg.append("text").attr("x", 274).attr("y", cy + 3).attr("font-size", 8.2)
      .attr("fill", st.text).text(name);
  });
}

export default function App() {
  const ref = useRef<SVGSVGElement>(null);
  useEffect(() => {
    const svg = d3.select(ref.current);
    svg.selectAll("*").remove();
    svg.append("rect").attr("width", 460).attr("height", 411).attr("fill", "#fff");
    drawTimePanel(svg, {
      left: 24.7, right: 217.3, top: 2, bottom: 170, yDomain: [-2, 4], yTicks: AB_Y_TICKS,
      values: [WT_01, WT_1, WT_5, WT_10, WT_20, WT_40, WT_75, WT_100],
      errs: [WT_01_ERR, WT_1_ERR, WT_5_ERR, WT_10_ERR, WT_20_ERR, WT_40_ERR, WT_75_ERR, WT_100_ERR],
      title: "Wild Type", italic: false, titleX: 115, titleY: 19,
      yLabelX: 9, letter: "A", letterX: 1, letterY: 10,
      legend: { x: 24.7, y: 2, w: 26.5, h: 82, firstY: 10, step: 9.7, fontSize: 8, lineLen: 7 },
    });
    drawTimePanel(svg, {
      left: 260.5, right: 451.7, top: 3, bottom: 172, yDomain: [-2, 4], yTicks: AB_Y_TICKS,
      values: [P1_01, P1_1, P1_5, P1_10, P1_20, P1_40, P1_75, P1_100],
      errs: [P1_01_ERR, P1_1_ERR, P1_5_ERR, P1_10_ERR, P1_20_ERR, P1_40_ERR, P1_75_ERR, P1_100_ERR],
      title: "phot1", italic: true, titleX: 351, titleY: 18.5,
      yLabelX: 244, letter: "B", letterX: 233, letterY: 10,
      legend: { x: 260.5, y: 3, w: 31.5, h: 90, firstY: 12, step: 10.85, fontSize: 10, lineLen: 9 },
    });
    drawTimePanel(svg, {
      left: 26.25, right: 217.5, top: 218, bottom: 384, yDomain: [-3, 1], yTicks: C_Y_TICKS,
      values: [P2_01, P2_1, P2_5, P2_10, P2_20, P2_40, P2_75, P2_100],
      errs: [P2_01_ERR, P2_1_ERR, P2_5_ERR, P2_10_ERR, P2_20_ERR, P2_40_ERR, P2_75_ERR, P2_100_ERR],
      title: "phot2", italic: true, titleX: 122, titleY: 226,
      yLabelX: 9, letter: "C", letterX: 1, letterY: 214,
      legend: { x: 26.5, y: 305, w: 26.5, h: 79, firstY: 311, step: 9.7, fontSize: 8, lineLen: 8 },
    });
    drawDosePanel(svg);
  }, []);
  return (
    <svg
      ref={ref}
      width={460}
      height={411}
      style={{ position: "absolute", left: 0, top: 0, fontFamily: FONT }}
    />
  );
}
